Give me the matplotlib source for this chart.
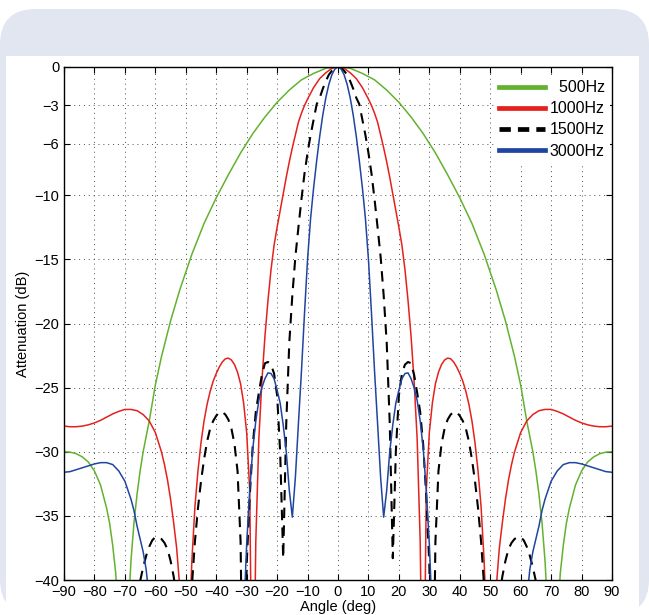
import numpy as np
import matplotlib
matplotlib.use("Agg")
import matplotlib.pyplot as plt
from matplotlib.patches import FancyBboxPatch, Rectangle

plt.rcParams['font.family'] = ['Liberation Sans', 'DejaVu Sans']

# Half patterns (angle >= 0); the pattern is symmetric

ang_500 = [0, 4, 8, 12, 16, 20, 24, 28, 32, 36, 40, 44, 48, 52, 55, 58, 60,
           62, 64, 65, 66, 67, 68, 69, 70, 71, 72, 73, 74, 75, 76, 78, 80,
           82, 84, 86, 88, 90]
db_500 = [0, -0.1, -0.5, -1.0, -1.8, -2.75, -3.9, -5.2, -6.7, -8.4, -10.2,
          -12.2, -14.6, -17.4, -19.8, -22.6, -24.8, -27.6, -30.0, -31.5,
          -33.3, -35.5, -38.5, -43, -52, -52, -44, -39.5, -37.3, -35.6, -34.4,
          -32.6, -31.5, -30.8, -30.4, -30.15, -30.03, -30.0]

ang_1000 = [0, 2, 4, 6, 8, 10, 11, 12, 13, 14, 15, 16, 17, 18, 19, 20, 21,
            22, 23, 24, 25, 26, 27, 28, 29, 30, 31, 32, 33, 34, 35, 36, 37,
            38, 39, 40, 41, 42, 43, 44, 45, 46, 47, 48, 49, 50, 51, 52, 53,
            54, 55, 56, 57, 58, 60, 62, 64, 66, 68, 70, 72, 74, 76, 78, 80,
            82, 84, 86, 88, 90]
db_1000 = [0, -0.1, -0.45, -0.9, -1.6, -2.5, -3.0, -3.6, -4.3, -5.3, -6.3,
           -7.4, -8.6, -9.9, -11.2, -12.5, -13.9, -15.8, -18.2, -21.0, -24.5,
           -29.0, -37, -55, -33, -28.5, -26.2, -24.7, -23.8, -23.2, -22.85,
           -22.7, -22.75, -23.0, -23.4, -23.9, -24.5, -25.3, -26.3, -27.6,
           -29.3, -31.5, -34.3, -38.5, -45, -55, -48, -40.5, -37.5, -35.5,
           -33.7, -32.2, -31.0, -30.0, -28.5, -27.6, -27.1, -26.8, -26.7,
           -26.7, -26.85, -27.05, -27.3, -27.55, -27.75, -27.9, -28.0, -28.05,
           -28.05, -28.0]

ang_1500 = [0, 1, 2, 3, 4, 5, 6, 7, 8, 9, 10, 11, 12, 13, 14, 15, 16, 17, 18,
            19, 20, 21, 22, 23, 24, 25, 26, 27, 28, 29, 30, 31, 32, 33, 34,
            35, 36, 37, 38, 39, 40, 41, 42, 43, 44, 45, 46, 47, 48, 49, 50,
            51, 52, 53, 54, 55, 56, 57, 58, 59, 60, 61, 62, 63, 64, 65, 66,
            67]
db_1500 = [0, -0.07, -0.3, -0.6, -1.1, -1.7, -2.4, -2.9, -4.1, -5.3, -6.7,
           -8.3, -10.3, -12.5, -14.8, -17.8, -21.5, -27.8, -38.3, -30, -25.6,
           -23.9, -23.2, -23.0, -23.1, -24.0, -25.4, -26.9, -29.5, -33.5,
           -38.8, -55, -37, -31.5, -29.4, -28.2, -27.5, -27.1, -26.9, -26.9,
           -27.2, -27.6, -28.2, -29.2, -30.6, -32.3, -34.4, -37.0, -40.5, -47,
           -60, -50, -44, -41.3, -39.7, -38.5, -37.6, -37.1, -36.8, -36.65,
           -36.65, -36.9, -37.4, -38.1, -39.0, -40.1, -41.5, -43]

ang_3000 = [0, 1, 2, 3, 4, 5, 6, 7, 8, 9, 10, 11, 12, 13, 14, 15, 16, 17, 18,
            19, 20, 21, 22, 23, 24, 25, 26, 27, 28, 29, 30, 31, 32, 60, 61,
            62, 63, 64, 65, 66, 67, 68, 70, 72, 74, 76, 78, 80, 82, 84, 86,
            88, 90]
db_3000 = [0, -0.15, -0.6, -1.35, -2.4, -3.75, -5.4, -7.3, -9.4, -11.8,
           -15.0, -19.2, -23.7, -27.8, -32.0, -35.1, -33.0, -30.0, -27.9,
           -26.2, -25.2, -24.3, -23.9, -23.85, -24.3, -25.0, -26.0, -27.6,
           -29.8, -33.0, -37.2, -43, -55, -50, -45, -41.5, -39.2, -37.8,
           -36.8, -35.8, -34.6, -33.7, -32.3, -31.5, -31.0, -30.85, -30.85,
           -30.95, -31.1, -31.25, -31.4, -31.55, -31.6]


def mirror(a, d):
    a = np.array(a, dtype=float)
    d = np.array(d, dtype=float)
    return np.concatenate([-a[::-1], a[1:]]), np.concatenate([d[::-1], d[1:]])


series = [
    (ang_500, db_500, '500Hz', '#63b22f', '-', 1.1),
    (ang_1000, db_1000, '1000Hz', '#e4211d', '-', 1.1),
    (ang_1500, db_1500, '1500Hz', 'black', (0, (5, 3.5)), 1.5),
    (ang_3000, db_3000, '3000Hz', '#1f45a0', '-', 1.1),
]
# leading spaces right-align the short label with the others
labels_fixed = {'500Hz': '  500Hz'}

fig = plt.figure(figsize=(6.49, 6.15), dpi=100, facecolor='white')

# frame in the background
W, H = 649.0, 615.0
bg = FancyBboxPatch((0, 0), 1.0, 1.2, transform=fig.transFigure,
                    boxstyle="round,pad=0,rounding_size=0.055",
                    fc='#e1e6f0', ec='none', zorder=-2, mutation_aspect=W / H)
bg.set_bounds(0, 0, 1.0, (H - 9) / H)
fig.patches.append(bg)
fig.patches.append(Rectangle((6 / W, 0), 633 / W, (H - 56) / H,
                             transform=fig.transFigure, fc='white', ec='none',
                             zorder=-1))

ax = fig.add_axes([64 / W, 35 / H, 548 / W, 513 / H])

for a, d, lab, col, ls, lw in series:
    xa, yd = mirror(a, d)
    ax.plot(xa, yd, color=col, linestyle=ls, linewidth=lw,
            label=labels_fixed.get(lab, lab))

ax.set_xlim(-90, 90)
ax.set_ylim(-40, 0)
ax.set_xticks(np.arange(-90, 91, 10))
ax.set_yticks([0, -3, -6, -10, -15, -20, -25, -30, -35, -40])
ax.grid(True, linestyle=(0, (1, 4)), color='0.3', linewidth=0.7)
ax.tick_params(direction='in', length=4, top=True, right=True,
               labelsize=10.5, width=0.8)
for s in ax.spines.values():
    s.set_linewidth(1.0)
ax.set_xlabel('Angle (deg)', fontsize=10.5, labelpad=1)
ax.set_ylabel('Attenuation (dB)', fontsize=10.5, labelpad=3)

leg = ax.legend(loc='upper right', bbox_to_anchor=(1.0, 0.988),
                fontsize=11.5, frameon=True, fancybox=False,
                edgecolor='none', facecolor='white', framealpha=1,
                handlelength=2.9, handletextpad=0.3, labelspacing=0.38,
                borderaxespad=0.15, borderpad=0.3)
for h in leg.get_lines():
    h.set_linewidth(3.4)
leg.get_lines()[2].set_dashes([2.4, 1.5])

fig.savefig('out.png', dpi=100, facecolor=fig.get_facecolor())
